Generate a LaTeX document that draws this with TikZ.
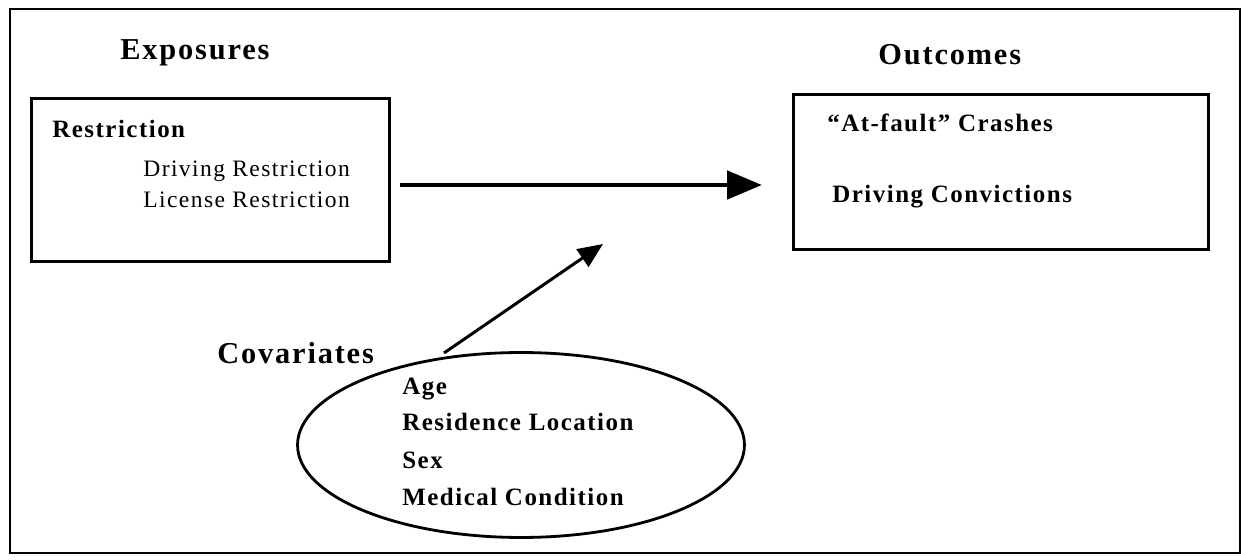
\documentclass[tikz,border=0pt]{standalone}
\usepackage{fontspec}
\setmainfont{Liberation Serif}[LetterSpace=6]
\usetikzlibrary{positioning, arrows.meta, shapes.geometric}
\tikzset{%
	frame/.style = {line width = 1.1pt},
	box/.style = {name = #1, draw, line width = 1.6pt, inner sep = 0pt, anchor = north west},
	head/.style = {font = \fontsize{17.3}{20}\selectfont\bfseries, anchor = base west, inner sep = 0pt},
	item/.style = {font = \fontsize{14.2}{17}\selectfont\bfseries, anchor = base west, inner sep = 0pt},
	sub/.style = {font = \fontsize{13.4}{16}\selectfont, anchor = base west, inner sep = 0pt},
	bigarrow/.style = {-{Triangle[length = 7mm, width = 5.6mm]}, line width = 2.8pt},
	smallarrow/.style = {-{Triangle[length = 5mm, width = 4.2mm]}, line width = 1.7pt}
}
\begin{document}
\begin{tikzpicture}[x=0.02cm,y=-0.02cm]
			\useasboundingbox (0,0) rectangle (1241,560);
			\draw [frame] (10,9) rectangle (1240,553);
			% exposures
			\node [head] (exphead) at (120,60) {Exposures};
			\node [box = {exp}, minimum width = 7.16cm, minimum height = 3.26cm] at (30,97) {};
			\node [item] (restr) at (52,138) {Restriction};
			\node [sub] (drvrestr) at (143,177) {Driving Restriction};
			\node [sub] (licrestr) at (143,208) {License Restriction};
			% outcomes
			\node [head] (outhead) at (878,65) {Outcomes};
			\node [box = {out}, minimum width = 8.3cm, minimum height = 3.1cm] at (792,93) {};
			\node [item] (crash) at (827,132) {“At-fault” Crashes};
			\node [item] (conv) at (832,203) {Driving Convictions};
			% covariates
			\node [head] (covhead) at (217,364) {Covariates};
			\node [ellipse, draw, line width = 1.6pt, inner sep = 0pt, minimum width = 8.94cm, minimum height = 3.7cm] (cov) at (521,445) {};
			\node [item] (age) at (402,395) {Age};
			\node [item] (res) at (402,431) {Residence Location};
			\node [item] (sex) at (402,468) {Sex};
			\node [item] (med) at (402,505) {Medical Condition};
			% arrows
			\coordinate (hstart) at (400,185);
			\coordinate (hend) at (762,185);
			\coordinate (dstart) at (444,353);
			\coordinate (dend) at (603,244);
			\draw [bigarrow] (hstart) -- (hend);
			\draw [smallarrow] (dstart) -- (dend);
\end{tikzpicture}
\end{document}
